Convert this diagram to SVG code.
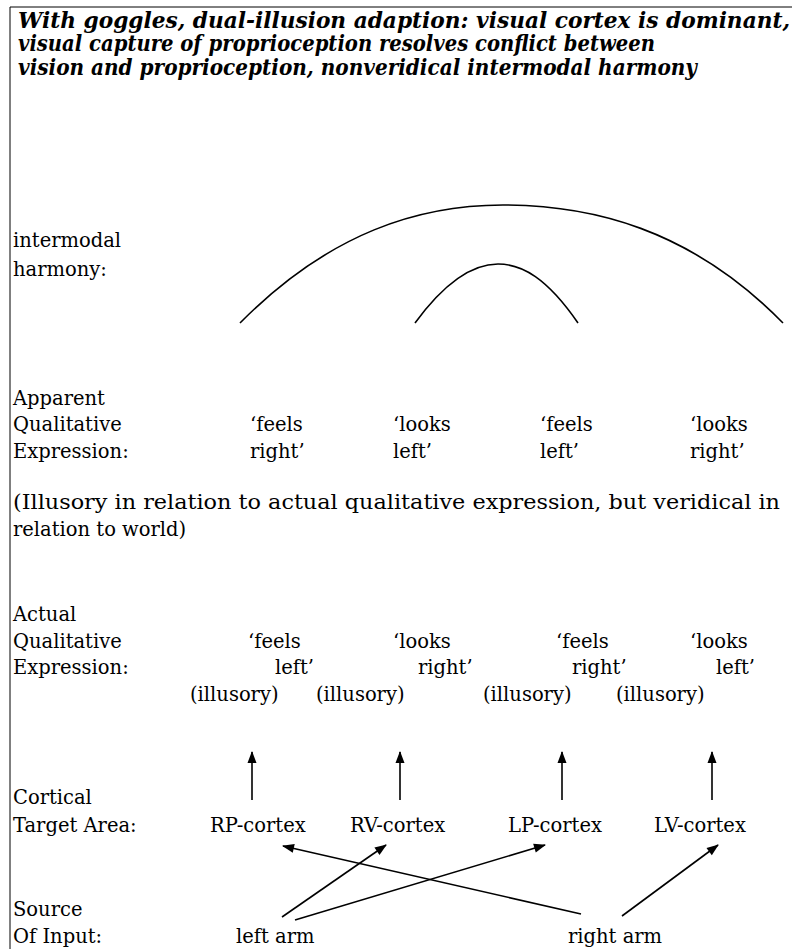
<svg xmlns="http://www.w3.org/2000/svg" width="792" height="949" viewBox="0 0 792 949">
  <style>
    .title { font-family: "DejaVu Serif", "Liberation Serif", serif; font-weight: bold; font-style: italic; font-size: 21.5px; fill: #000; }
    .t { font-family: "DejaVu Serif", "Liberation Serif", serif; font-size: 19.5px; fill: #000; }
    .frame { fill: none; stroke: #000; stroke-width: 1; }
    .arc { fill: none; stroke: #000; stroke-width: 1.6; }
    .conn { fill: none; stroke: #000; stroke-width: 1.6; marker-end: url(#head); }
  </style>
  <defs>
    <marker id="head" viewBox="0 0 12 10" refX="11" refY="5" markerWidth="13" markerHeight="10" markerUnits="userSpaceOnUse" orient="auto">
      <path d="M0,0.5 L12,5 L0,9.5 z" fill="#000"/>
    </marker>
  </defs>
  <rect width="792" height="949" fill="#fff"/>

  <!-- page frame: top rule and left rule -->
  <path class="frame" d="M10,949 V7 H792"/>

  <!-- heading -->
  <g id="heading">
    <text class="title" x="18" y="28" textLength="772" lengthAdjust="spacingAndGlyphs">With goggles, dual-illusion adaption: visual cortex is dominant,</text>
    <text class="title" x="18" y="51" textLength="637" lengthAdjust="spacingAndGlyphs">visual capture of proprioception resolves conflict between</text>
    <text class="title" x="18" y="75" textLength="679" lengthAdjust="spacingAndGlyphs">vision and proprioception, nonveridical intermodal harmony</text>
  </g>

  <!-- intermodal harmony row -->
  <g id="harmony">
    <text class="t" x="13" y="247">intermodal</text>
    <text class="t" x="13" y="276">harmony:</text>
    <path class="arc" d="M240,323 C330,232 420,205 503,205 C590,205 690,228 783,323"/>
    <path class="arc" d="M415,323 C448,278 475,264 498,264 C522,264 547,278 578,323"/>
  </g>

  <!-- apparent qualitative expression row -->
  <g id="apparent">
    <text class="t" x="13" y="405">Apparent</text>
    <text class="t" x="13" y="431">Qualitative</text>
    <text class="t" x="13" y="458">Expression:</text>
    <text class="t" x="250" y="431">‘feels</text>
    <text class="t" x="250" y="458">right’</text>
    <text class="t" x="393" y="431">‘looks</text>
    <text class="t" x="393" y="458">left’</text>
    <text class="t" x="540" y="431">‘feels</text>
    <text class="t" x="540" y="458">left’</text>
    <text class="t" x="690" y="431">‘looks</text>
    <text class="t" x="690" y="458">right’</text>
  </g>

  <g id="note">
    <text class="t" x="13" y="509" textLength="767" lengthAdjust="spacingAndGlyphs">(Illusory in relation to actual qualitative expression, but veridical in</text>
    <text class="t" x="13" y="536">relation to world)</text>
  </g>

  <!-- actual qualitative expression row -->
  <g id="actual">
    <text class="t" x="13" y="621">Actual</text>
    <text class="t" x="13" y="648">Qualitative</text>
    <text class="t" x="13" y="674">Expression:</text>
    <text class="t" x="248" y="648">‘feels</text>
    <text class="t" x="275" y="674">left’</text>
    <text class="t" x="393" y="648">‘looks</text>
    <text class="t" x="418" y="674">right’</text>
    <text class="t" x="556" y="648">‘feels</text>
    <text class="t" x="572" y="674">right’</text>
    <text class="t" x="690" y="648">‘looks</text>
    <text class="t" x="716" y="674">left’</text>
    <text class="t" x="190" y="701">(illusory)</text>
    <text class="t" x="316" y="701">(illusory)</text>
    <text class="t" x="483" y="701">(illusory)</text>
    <text class="t" x="616" y="701">(illusory)</text>
  </g>

  <!-- cortical target areas -->
  <g id="cortical">
    <text class="t" x="13" y="804">Cortical</text>
    <text class="t" x="13" y="832">Target Area:</text>
    <text class="t" x="210" y="832">RP-cortex</text>
    <text class="t" x="350" y="832">RV-cortex</text>
    <text class="t" x="508" y="832">LP-cortex</text>
    <text class="t" x="654" y="832">LV-cortex</text>
  </g>

  <!-- sources of input -->
  <g id="source">
    <text class="t" x="13" y="916">Source</text>
    <text class="t" x="13" y="943">Of Input:</text>
    <text class="t" x="236" y="943">left arm</text>
    <text class="t" x="568" y="943">right arm</text>
  </g>

  <!-- connectors -->
  <g id="connectors">
    <line class="conn" x1="252" y1="800" x2="252" y2="752"/>
    <line class="conn" x1="400" y1="800" x2="400" y2="752"/>
    <line class="conn" x1="562" y1="800" x2="562" y2="752"/>
    <line class="conn" x1="712" y1="800" x2="712" y2="752"/>
    <line class="conn" x1="282" y1="917" x2="386" y2="845"/>
    <line class="conn" x1="295" y1="920" x2="545" y2="845"/>
    <line class="conn" x1="581" y1="914" x2="283" y2="846"/>
    <line class="conn" x1="622" y1="916" x2="718" y2="845"/>
  </g>
</svg>
